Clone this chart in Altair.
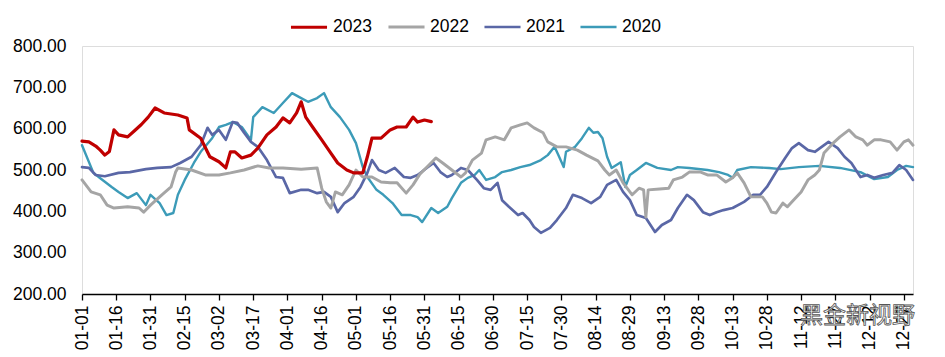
import json
import altair as alt
import pandas as pd

# ---- data (day of year, 0 = 01-01) ----
days_2023 = [0, 3, 6, 8, 10, 12, 14, 16, 20, 23, 26, 29, 32, 36, 42, 46, 47, 52, 56, 60, 63, 65, 67, 70, 74, 77,
             81, 85, 88, 91, 94, 96, 98, 101, 105, 109, 112, 116, 119, 123, 125, 127, 131, 135, 138, 142, 145, 147, 150, 153]
vals_2023 = [570, 568, 558, 548, 536, 545, 597, 585, 580, 595, 610, 628, 650, 638, 633, 626, 597, 577, 532, 520, 505, 544, 544, 529, 536, 553,
             585, 604, 626, 614, 638, 665, 628, 604, 573, 541, 517, 500, 493, 493, 532, 577, 577, 597, 604, 604, 628, 616, 621, 617]

days_2022 = [0, 4, 8, 11, 14, 20, 25, 27, 30, 35, 39, 41, 42, 48, 54, 60, 65, 71, 77, 82, 88, 96, 103, 105, 107, 109, 111, 114,
             117, 120, 123, 127, 131, 135, 138, 142, 145, 148, 152, 155, 158, 162, 166, 168, 171, 175, 177, 181, 185, 188, 192, 195,
             198, 202, 204, 208, 212, 217, 221, 226, 229, 231, 234, 237, 241, 244, 246, 247, 248, 253, 257, 259, 263, 266, 271, 274,
             278, 282, 285, 287, 290, 293, 296, 298, 300, 302, 304, 307, 309, 311, 315, 318, 321, 323, 325, 329, 332, 336, 339, 342,
             344, 347, 350, 354, 357, 360, 362, 364]
vals_2022 = [476, 447, 440, 415, 408, 411, 408, 398, 415, 440, 459, 495, 505, 500, 488, 488, 493, 500, 510, 505, 505, 502, 505, 456, 423, 408, 447, 440,
             464, 500, 483, 483, 471, 469, 469, 444, 464, 490, 512, 529, 517, 500, 483, 493, 524, 541, 573, 580, 573, 602, 609, 614,
             602, 590, 568, 556, 556, 548, 536, 522, 500, 488, 500, 469, 440, 456, 452, 386, 452, 454, 456, 476, 483, 495, 495, 488,
             488, 471, 481, 493, 469, 435, 435, 435, 420, 398, 396, 420, 411, 423, 447, 476, 488, 500, 541, 565, 580, 597, 580, 573,
             560, 573, 573, 568, 548, 568, 573, 560]

days_2021 = [0, 3, 6, 10, 16, 21, 28, 33, 39, 43, 48, 52, 55, 57, 60, 63, 66, 68, 71, 74, 77, 81, 85, 88, 91, 96, 99, 103, 106,
             109, 112, 115, 119, 122, 125, 127, 130, 133, 137, 141, 144, 147, 151, 154, 157, 160, 162, 166, 169, 173, 176, 179, 182,
             184, 187, 191, 193, 196, 198, 201, 205, 208, 212, 215, 219, 223, 227, 230, 234, 237, 240, 243, 247, 251, 254, 258, 261,
             265, 268, 272, 275, 278, 281, 285, 290, 294, 297, 300, 304, 308, 311, 314, 318, 321, 324, 327, 331, 334, 337, 341, 344,
             347, 351, 355, 358, 361, 364]
vals_2021 = [507, 505, 488, 485, 493, 495, 502, 505, 507, 517, 532, 560, 602, 585, 597, 573, 616, 614, 590, 568, 556, 524, 483, 481, 444, 452, 452, 444, 447,
             435, 398, 420, 435, 459, 493, 524, 500, 493, 505, 483, 481, 488, 505, 517, 495, 483, 488, 505, 500, 476, 456, 452, 469,
             427, 411, 391, 396, 379, 362, 348, 360, 379, 408, 440, 432, 420, 435, 464, 476, 447, 427, 391, 384, 350, 367, 379, 408,
             440, 427, 398, 391, 398, 403, 408, 423, 440, 440, 459, 495, 529, 553, 565, 548, 544, 556, 568, 553, 532, 517, 483, 488,
             481, 488, 493, 512, 500, 476]

days_2020 = [0, 5, 8, 13, 16, 20, 24, 28, 30, 34, 37, 40, 42, 45, 49, 52, 57, 60, 63, 66, 70, 74, 75, 79, 84, 88, 92, 96, 99,
             103, 106, 109, 113, 117, 120, 123, 125, 129, 132, 136, 140, 144, 147, 149, 153, 156, 160, 162, 166, 169, 172, 174, 177,
             181, 184, 188, 192, 196, 201, 204, 207, 209, 211, 212, 216, 219, 222, 224, 226, 228, 230, 232, 236, 238, 240, 243, 247,
             252, 258, 261, 266, 274, 279, 283, 285, 287, 293, 301, 306, 314, 323, 332, 341, 347, 353, 357, 361, 364]
vals_2020 = [560, 493, 480, 459, 447, 432, 444, 415, 440, 420, 391, 396, 440, 476, 517, 544, 577, 604, 609, 616, 604, 573, 628, 652, 638, 662, 686, 674, 665,
             674, 686, 652, 628, 597, 565, 507, 483, 452, 440, 420, 391, 391, 386, 374, 408, 396, 411, 432, 469, 481, 488, 500, 476,
             483, 495, 500, 507, 512, 524, 536, 556, 532, 507, 544, 556, 577, 602, 590, 592, 577, 532, 505, 519, 459, 488, 500, 517,
             505, 500, 507, 505, 500, 495, 488, 481, 500, 507, 505, 502, 507, 510, 505, 495, 478, 483, 500, 510, 507]

years = ["2023", "2022", "2021", "2020"]
colors = ["#C00000", "#A5A5A5", "#5A67A6", "#3C9BB8"]
widths = [3.2, 2.4, 2.4, 2.4]

tick_labels = ["01-01", "01-16", "01-31", "02-15", "03-02", "03-17", "04-01", "04-16", "05-01", "05-16",
               "05-31", "06-15", "06-30", "07-15", "07-30", "08-14", "08-29", "09-13", "09-28", "10-13",
               "10-28", "11-12", "11-27", "12-12", "12-27"]
tick_values = [15 * i for i in range(len(tick_labels))]

series = {"2020": (days_2020, vals_2020), "2021": (days_2021, vals_2021),
          "2022": (days_2022, vals_2022), "2023": (days_2023, vals_2023)}
rows = []
for order, (yr, (d, v)) in enumerate(series.items()):
    for di, vi in zip(d, v):
        rows.append({"year": yr, "day": di, "value": vi, "ord": order})
df = pd.DataFrame(rows)

FONT = "Liberation Sans"
W, H = 831, 248

lines = alt.Chart(df).mark_line(strokeJoin="round", strokeCap="round").encode(
    x=alt.X("day:Q",
            scale=alt.Scale(domain=[0, 364], nice=False, zero=False),
            axis=alt.Axis(values=tick_values, title=None, grid=False,
                          labelExpr=json.dumps(tick_labels) + "[round(datum.value/15)]",
                          labelAngle=-90, labelAlign="right", labelBaseline="middle",
                          labelFontSize=17.5, labelColor="#000000", labelFont=FONT,
                          tickSize=6, tickColor="#000000", tickWidth=1.3,
                          domainColor="#000000", domainWidth=1.5, labelPadding=5,
                          labelOverlap=False, labelFlush=False)),
    y=alt.Y("value:Q",
            scale=alt.Scale(domain=[200, 800], nice=False, zero=False),
            axis=alt.Axis(values=[200, 300, 400, 500, 600, 700, 800], format=".2f", title=None,
                          grid=False, domain=False, ticks=False, labelPadding=16,
                          labelFontSize=17.5, labelColor="#000000", labelFont=FONT)),
    color=alt.Color("year:N", scale=alt.Scale(domain=years, range=colors),
                    legend=alt.Legend(title=None, orient="none", legendX=207, legendY=-39,
                                      direction="horizontal", symbolType="stroke",
                                      symbolSize=1300, symbolStrokeWidth=3,
                                      labelFontSize=17.5, labelFont=FONT, labelColor="#000000",
                                      columnPadding=10, labelOffset=4)),
    strokeWidth=alt.StrokeWidth("year:N", scale=alt.Scale(domain=years, range=widths), legend=None),
    order=alt.Order("ord:Q"),
)

watermark = alt.Chart(pd.DataFrame({"t": ["黑金新视野"]})).mark_text(
    font="Noto Sans CJK SC", fontSize=23, align="left", baseline="middle",
    fill="#ffffff", stroke="#555555", strokeWidth=0.8,
).encode(x=alt.value(718), y=alt.value(270), text="t:N")

chart = alt.layer(lines, watermark).properties(
    width=W, height=H,
    autosize=alt.AutoSizeParams(type="none"),
    padding={"left": 82, "top": 46, "right": 945 - 82 - W, "bottom": 357 - 46 - H},
).configure_view(stroke=None).configure(font=FONT, background="#ffffff")

chart.save("out.html", embed_options={"renderer": "svg", "actions": False})
